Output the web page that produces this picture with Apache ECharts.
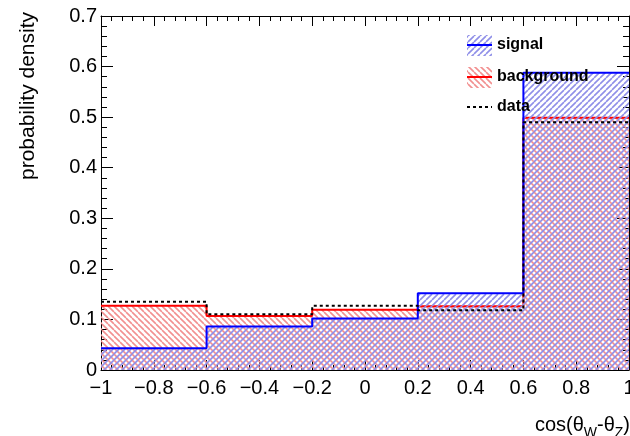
<!DOCTYPE html>
<html>
<head>
<meta charset="utf-8">
<script src="https://cdn.jsdelivr.net/npm/echarts@6/dist/echarts.min.js"></script>
<style>
  html, body { margin: 0; padding: 0; background: #fff; overflow: hidden; }
  #chart { width: 630px; height: 436px; }
</style>
</head>
<body>
<div id="chart"></div>
<script>
// Bin edges of the cos(θW-θZ) histogram and the per-bin densities
const binEdges = [-1, -0.6, -0.2, 0.2, 0.6, 1];
const signalValues = [0.043, 0.086, 0.102, 0.152, 0.588];
const backgroundValues = [0.127, 0.107, 0.119, 0.126, 0.499];
const dataValues = [0.135, 0.110, 0.127, 0.118, 0.490];
const xTicks = [-1, -0.8, -0.6, -0.4, -0.2, 0, 0.2, 0.4, 0.6, 0.8, 1];
const yTicks = [0, 0.1, 0.2, 0.3, 0.4, 0.5, 0.6, 0.7];
const seriesNames = ['signal', 'background', 'data'];

const FONT = '"Liberation Sans", Arial, Helvetica, sans-serif';

// Diagonal hatch tile; dir '/' rises to the right, '\\' falls to the right
function hatchTile(color, dir, size, width) {
  const c = document.createElement('canvas');
  c.width = size; c.height = size;
  const g = c.getContext('2d');
  g.strokeStyle = color;
  g.lineWidth = width;
  g.beginPath();
  for (const k of [-size, 0, size]) {
    if (dir === '/') { g.moveTo(k, size); g.lineTo(k + size, 0); }
    else { g.moveTo(k, 0); g.lineTo(k + size, size); }
  }
  g.stroke();
  return { image: c, repeat: 'repeat' };
}
const blueHatch = hatchTile('#8f8fe8', '/', 6, 1.6);
const redHatch = hatchTile('#f29090', '\\', 6, 1.6);

// Step points: each bin starts at its left edge, last point closes the final bin
function stepPoints(values) {
  const pts = values.map((v, i) => [binEdges[i], v]);
  pts.push([binEdges[binEdges.length - 1], values[values.length - 1]]);
  return pts;
}

function fmtTick(v) {
  const r = Math.round(v * 10) / 10;
  if (r === 0) return '0';
  return (r < 0 ? '\u2212' : '') + String(Math.abs(r));
}

const xMin = xTicks[0], xMax = xTicks[xTicks.length - 1];
const yMin = yTicks[0], yMax = yTicks[yTicks.length - 1];
const xStep = xTicks[1] - xTicks[0];
const yStep = yTicks[1] - yTicks[0];

function xAxisDef(pos, labels) {
  return {
    type: 'value', position: pos, min: xMin, max: xMax, interval: xStep,
    axisLine: { show: true, onZero: false, lineStyle: { color: '#000', width: 1 } },
    axisTick: { show: true, inside: true, length: 10, lineStyle: { color: '#000' } },
    minorTick: { show: true, splitNumber: 5, length: 5, lineStyle: { color: '#000' } },
    splitLine: { show: false },
    axisLabel: {
      show: labels, margin: 8, formatter: fmtTick, showMaxLabel: true, showMinLabel: true,
      hideOverlap: false, color: '#000', fontFamily: FONT, fontSize: 20
    }
  };
}
function yAxisDef(pos, labels) {
  return {
    type: 'value', position: pos, min: yMin, max: yMax, interval: yStep,
    axisLine: { show: true, onZero: false, lineStyle: { color: '#000', width: 1 } },
    axisTick: { show: true, inside: true, length: 12, lineStyle: { color: '#000' } },
    minorTick: { show: true, splitNumber: 5, length: 6, lineStyle: { color: '#000' } },
    splitLine: { show: false },
    axisLabel: {
      show: labels, margin: 4, formatter: fmtTick,
      color: '#000', fontFamily: FONT, fontSize: 20
    }
  };
}

// Legend drawn as hatched boxes with line samples
const legendX = 467, legendTextX = 497;
const legendRows = [
  { name: seriesNames[0], cy: 45, fill: blueHatch, stroke: '#0000ff', dash: null },
  { name: seriesNames[1], cy: 77, fill: redHatch, stroke: '#ff0000', dash: null },
  { name: seriesNames[2], cy: 107, fill: null, stroke: '#000', dash: [3, 3] }
];
const legendGraphics = [];
legendRows.forEach(r => {
  if (r.fill) {
    legendGraphics.push({ type: 'rect', shape: { x: legendX, y: r.cy - 10, width: 25, height: 21 },
      style: { fill: r.fill }, z: 100 });
  }
  legendGraphics.push({ type: 'line', shape: { x1: legendX, y1: r.cy, x2: legendX + 25, y2: r.cy },
    style: { stroke: r.stroke, lineWidth: 2, lineDash: r.dash }, z: 101 });
  legendGraphics.push({ type: 'text', x: legendTextX, y: r.cy,
    style: { text: r.name, fill: '#000', font: 'bold 16px ' + FONT, verticalAlign: 'middle', align: 'left' }, z: 101 });
});

const chart = echarts.init(document.getElementById('chart'), null, { renderer: 'canvas' });
chart.setOption({
  backgroundColor: '#fff',
  animation: false,
  grid: { left: 101, right: 1, top: 16, bottom: 66, containLabel: false, outerBoundsMode: 'none' },
  xAxis: [xAxisDef('bottom', true), xAxisDef('top', false)],
  yAxis: [yAxisDef('left', true), yAxisDef('right', false)],
  series: [
    {
      name: seriesNames[1], type: 'line', step: 'end', symbol: 'none',
      data: stepPoints(backgroundValues),
      lineStyle: { color: '#ff0000', width: 2 },
      areaStyle: { color: redHatch, opacity: 1, origin: 'start' },
      z: 2
    },
    {
      name: seriesNames[0], type: 'line', step: 'end', symbol: 'none',
      data: stepPoints(signalValues),
      lineStyle: { color: '#0000ff', width: 2 },
      areaStyle: { color: blueHatch, opacity: 1, origin: 'start' },
      z: 3
    },
    {
      name: seriesNames[2], type: 'line', step: 'end', symbol: 'none',
      data: stepPoints(dataValues),
      lineStyle: { color: '#000', width: 2, type: [3, 3] },
      z: 4
    }
  ],
  graphic: [
    {
      type: 'text', x: 28, y: 96, rotation: Math.PI / 2,
      style: { text: 'probability density', fill: '#000', font: '21px ' + FONT,
        align: 'center', verticalAlign: 'middle' }
    },
    {
      type: 'text', x: 630, y: 410,
      style: {
        text: 'cos(θ{s|W}-θ{s|Z})', fill: '#000', align: 'right', verticalAlign: 'top',
        fontFamily: FONT, fontSize: 20, lineHeight: 22,
        rich: {
          s: { fontFamily: FONT, fontSize: 14, lineHeight: 30, verticalAlign: 'bottom', fill: '#000' }
        }
      }
    }
  ].concat(legendGraphics)
});
</script>
</body>
</html>
